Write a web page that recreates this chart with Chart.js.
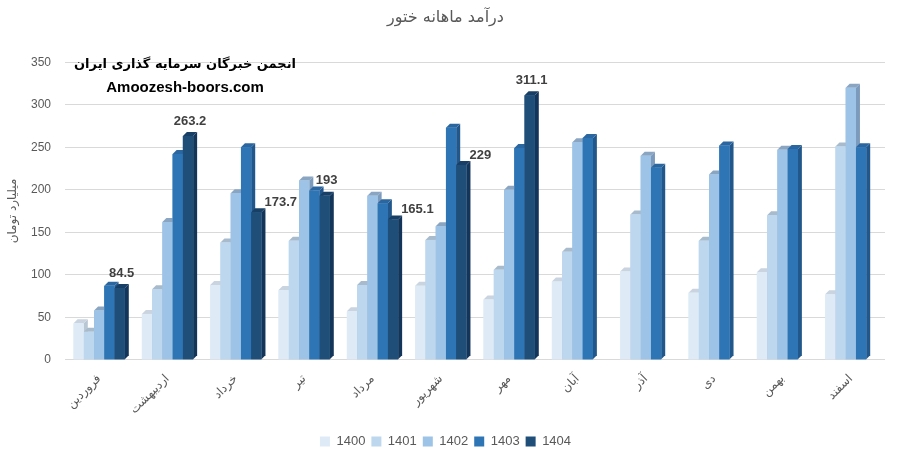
<!DOCTYPE html>
<html lang="fa">
<head>
  <meta charset="utf-8" />
  <title>درآمد ماهانه ختور</title>
  <script src="https://cdn.jsdelivr.net/npm/chart.js@4.4.1/dist/chart.umd.min.js"></script>
  <style>
    html, body { margin: 0; padding: 0; background: #fff; }
    #wrap { width: 905px; height: 467px; position: relative; }
  </style>
</head>
<body>
  <div id="wrap">
    <canvas id="myChart" width="905" height="467"></canvas>
  </div>

  <script>
    // ماه ها
    const months = ['فروردین', 'اردیبهشت', 'خرداد', 'تیر', 'مرداد', 'شهریور', 'مهر', 'آبان', 'آذر', 'دی', 'بهمن', 'اسفند'];
    const years = ['1400', '1401', '1402', '1403', '1404'];

    // میلیارد تومان
    const v1400 = [43, 54, 88, 82, 57, 87, 71, 92, 104, 79, 103, 77];
    const v1401 = [33, 83, 138, 140, 88, 141, 106, 127, 171, 140, 170, 251];
    const v1402 = [58, 162, 196, 211, 193, 157, 200, 256, 240, 218, 247, 320];
    const v1403 = [87, 242, 250, 199, 184, 273, 249, 261, 226, 252, 248, 250];
    const v1404 = [84.5, 263.2, 173.7, 193, 165.1, 229, 311.1, null, null, null, null, null];

    const yTicks = [0, 50, 100, 150, 200, 250, 300, 350];

    const colors = ['#DEEBF7', '#BDD7EE', '#9DC3E6', '#2E75B6', '#1F4E79'];
    const sideColors = ['#B9C6D4', '#9AB0C4', '#7C9ABB', '#21578A', '#14355A'];
    const topColors = ['#C9D4E0', '#A8BBCD', '#8AA5C2', '#2A66A0', '#183F66'];

    const DEPTH = 4;

    // 3D bars drawn on top of the normal ones, in dataset order
    const bars3d = {
      id: 'bars3d',
      afterDatasetsDraw(chart) {
        const ctx = chart.ctx;
        const metas = chart.data.datasets.map((d, i) => chart.getDatasetMeta(i));
        ctx.save();
        for (let j = 0; j < months.length; j++) {
          metas.forEach((meta, i) => {
            const bar = meta.data[j];
            const val = chart.data.datasets[i].data[j];
            if (!bar || val == null) return;
            const l = bar.x - bar.width / 2, r = bar.x + bar.width / 2;
            const t = bar.y, b = bar.base;
            // side
            ctx.fillStyle = sideColors[i];
            ctx.beginPath();
            ctx.moveTo(r, t); ctx.lineTo(r + DEPTH, t - DEPTH);
            ctx.lineTo(r + DEPTH, b - DEPTH); ctx.lineTo(r, b);
            ctx.closePath(); ctx.fill();
            // top
            ctx.fillStyle = topColors[i];
            ctx.beginPath();
            ctx.moveTo(l, t); ctx.lineTo(l + DEPTH, t - DEPTH);
            ctx.lineTo(r + DEPTH, t - DEPTH); ctx.lineTo(r, t);
            ctx.closePath(); ctx.fill();
            // front
            ctx.fillStyle = colors[i];
            ctx.fillRect(l, t, r - l, b - t);
          });
        }

        // برچسب مقدار 1404
        ctx.font = 'bold 13px "Liberation Sans", Arial, sans-serif';
        ctx.fillStyle = '#404040';
        ctx.textBaseline = 'middle';
        const meta4 = metas[4];
        v1404.forEach((v, j) => {
          if (v == null) return;
          const bar = meta4.data[j];
          if (v1403[j] - v > 15) {
            ctx.textAlign = 'left';
            ctx.fillText(String(v), bar.x + bar.width / 2 + DEPTH - 1, bar.y - 10);
          } else {
            ctx.textAlign = 'center';
            ctx.fillText(String(v), bar.x + 2, bar.y - 15);
          }
        });

        // watermark
        ctx.fillStyle = '#000';
        ctx.textAlign = 'center';
        ctx.font = 'bold 13px "DejaVu Sans", sans-serif';
        ctx.fillText('انجمن خبرگان سرمایه گذاری ایران', 185, 65);
        ctx.font = 'bold 15px "Liberation Sans", Arial, sans-serif';
        ctx.fillText('Amoozesh-boors.com', 185, 88);
        ctx.restore();
      }
    };

    const ds = [v1400, v1401, v1402, v1403, v1404].map((arr, i) => ({
      label: years[i],
      data: arr,
      backgroundColor: colors[i],
      borderWidth: 0,
      categoryPercentage: 0.75,
      barPercentage: 1.0
    }));

    new Chart(document.getElementById('myChart'), {
      type: 'bar',
      data: { labels: months, datasets: ds },
      options: {
        responsive: false,
        animation: false,
        layout: { padding: { left: 6, right: 20, top: 4, bottom: 9 } },
        plugins: {
          title: {
            display: true,
            text: 'درآمد ماهانه ختور',
            color: '#595959',
            font: { family: '"DejaVu Sans", sans-serif', size: 16, weight: 'normal' },
            padding: { top: 4, bottom: 35 }
          },
          legend: {
            position: 'bottom',
            labels: {
              color: '#595959',
              font: { family: '"Liberation Sans Narrow", "Liberation Sans", sans-serif', size: 13 },
              boxWidth: 10, boxHeight: 10, padding: 6
            }
          },
          tooltip: { enabled: false }
        },
        scales: {
          x: {
            grid: { display: false },
            border: { display: false },
            afterFit: (s) => { s.height += 8; },
            ticks: {
              color: '#595959',
              font: { family: '"DejaVu Sans", sans-serif', size: 12 },
              minRotation: 45, maxRotation: 45, padding: 4
            }
          },
          y: {
            min: 0, max: 350,
            afterBuildTicks: (s) => { s.ticks = yTicks.map(v => ({ value: v })); },
            afterFit: (s) => { s.width = 59; },
            grid: { color: '#D9D9D9', drawTicks: false },
            border: { display: false },
            ticks: {
              color: '#595959',
              font: { family: '"Liberation Sans", Arial, sans-serif', size: 12 },
              padding: 14
            },
            title: {
              display: true,
              text: 'میلیارد تومان',
              color: '#595959',
              font: { family: '"DejaVu Sans", sans-serif', size: 12 },
              padding: 0
            }
          }
        }
      },
      plugins: [bars3d]
    });
  </script>
</body>
</html>
